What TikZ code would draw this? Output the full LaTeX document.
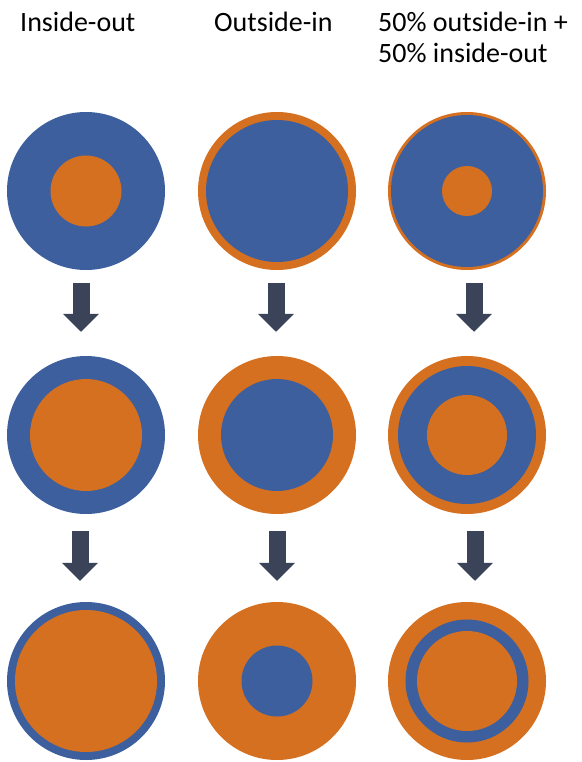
\documentclass[tikz,border=0pt]{standalone}
\usepackage{fontspec}
\setmainfont{Carlito}
\usetikzlibrary{positioning,arrows.meta}
\definecolor{cblue}{HTML}{3E5F9E}
\definecolor{corange}{HTML}{D4701F}
\definecolor{carrow}{HTML}{3B4358}
\tikzset{
  disc/.style={circle, draw=none, inner sep=0pt, minimum size=#1},
  bl/.style={disc=#1, fill=cblue},
  or/.style={disc=#1, fill=corange},
  head/.style={anchor=base west, inner sep=0pt, align=left,
               font=\fontsize{28}{31}\selectfont},
  down/.style={draw=carrow, line width=17pt,
               -{Triangle[width=35pt, length=18pt]}}
}
\begin{document}
\begin{tikzpicture}[x=1pt, y=-1pt]
\useasboundingbox (0,0) rectangle (581,762);
% column titles (base of a two-line node is its last line)
\node[head] (t1) at (20,32) {Inside-out};
\node[head] (t2) at (214,32) {Outside-in};
\node[head] (t3) at (378,63) {50\% outside-in +\\50\% inside-out};
% row 1
\node[bl=158pt] (o11) at (86,191) {};  \node[or=71pt] (i11) at (o11) {};
\node[or=158pt] (o12) at (277,191) {}; \node[bl=142pt] (i12) at (o12) {};
\node[or=158pt] (o13) at (467,191) {}; \node[bl=152pt] (i13) at (o13) {};
\node[or=50pt] (k13) at (o13) {};
% row 2
\node[bl=158pt] (o21) at (86,435) {};  \node[or=112pt] (i21) at (o21) {};
\node[or=158pt] (o22) at (277,435) {}; \node[bl=112pt] (i22) at (o22) {};
\node[or=158pt] (o23) at (467,435) {}; \node[bl=138pt] (i23) at (o23) {};
\node[or=80pt] (k23) at (o23) {};
% row 3
\node[bl=158pt] (o31) at (86,681) {};  \node[or=142pt] (i31) at (o31) {};
\node[or=158pt] (o32) at (277,681) {}; \node[bl=71pt] (i32) at (o32) {};
\node[or=158pt] (o33) at (467,681) {}; \node[bl=123pt] (i33) at (o33) {};
\node[or=100pt] (k33) at (o33) {};
% arrows
\draw[down] ([xshift=-5pt,yshift=-13pt]o11.south) -- ([xshift=-5pt,yshift=24pt]o21.north);
\draw[down] ([xshift=-1pt,yshift=-13pt]o12.south) -- ([xshift=-1pt,yshift=24pt]o22.north);
\draw[down] ([xshift=7pt,yshift=-13pt]o13.south) -- ([xshift=7pt,yshift=24pt]o23.north);
\draw[down] ([xshift=-6pt,yshift=-17pt]o21.south) -- ([xshift=-6pt,yshift=21pt]o31.north);
\draw[down] ([xshift=0pt,yshift=-17pt]o22.south) -- ([xshift=0pt,yshift=21pt]o32.north);
\draw[down] ([xshift=8pt,yshift=-17pt]o23.south) -- ([xshift=8pt,yshift=21pt]o33.north);
\end{tikzpicture}
\end{document}
